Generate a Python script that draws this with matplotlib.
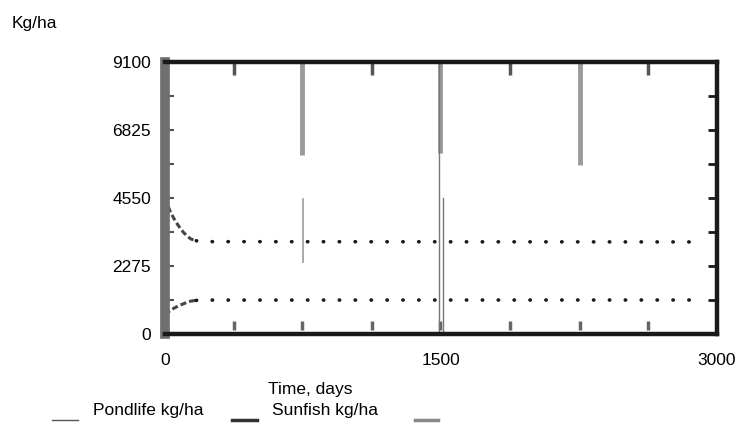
import matplotlib
matplotlib.use("Agg")
import matplotlib.pyplot as plt

plt.rcParams.update({"font.family": ["Liberation Sans", "DejaVu Sans"], "font.size": 11})

# data
days = [0, 15, 30, 45, 60, 80, 100, 120, 140, 170, 200, 2880]
pondlife = [4550, 4300, 4080, 3900, 3740, 3560, 3400, 3280, 3180, 3120, 3090, 3080]
sunfish = [650, 720, 790, 850, 900, 960, 1010, 1060, 1100, 1125, 1135, 1138]
n_early = 10  # the start-up part is drawn solid, the plateau dotted

yticks = [0, 2275, 4550, 6825, 9100]
xticks = [0, 1500, 3000]
minor_y = [1137.5, 3412.5, 5687.5, 7962.5]

# page-break marks STELLA left on the plot
marks_top = [745, 1495, 2255]
marks_top_end = [5990, 6050, 5650]
marks_short = [375, 1125, 1875, 2625]

fig = plt.figure(figsize=(7.38, 4.46), dpi=100)
ax = fig.add_axes([0.2236, 0.2511, 0.7479, 0.6099])
ax.set_xlim(0, 3000)
ax.set_ylim(0, 9100)

ink = "#1a1a1a"
grey = "#9a9a9a"

for t, lo in zip(marks_top, marks_top_end):
    ax.plot([t, t], [lo, 9100], color=grey, lw=3.5, solid_capstyle="butt", zorder=1)
for t in marks_short:
    ax.plot([t, t], [8650, 9100], color="#555555", lw=2.5, solid_capstyle="butt")
for t in marks_top + marks_short:
    ax.plot([t, t], [130, 450], color="#666666", lw=2.5, solid_capstyle="butt")
ax.plot([750, 750], [2400, 4500], color=grey, lw=1.2)
ax.plot([1490, 1490], [0, 9100], color="#777777", lw=1.0)
ax.plot([1512, 1512], [0, 4550], color="#777777", lw=1.0)

for ys in (pondlife, sunfish):
    ax.plot(days[:n_early], ys[:n_early], color="#444444", lw=2.2, ls=(0, (2, 1)))
    ax.plot(days[n_early - 1:], ys[n_early - 1:], color=ink, lw=2.6,
            ls=(0, (0.1, 4.3)), dash_capstyle="round")

for y in minor_y + yticks[1:-1]:
    ax.plot([3000 - 50, 3000], [y, y], color=ink, lw=2, solid_capstyle="butt")
    ax.plot([0, 50], [y, y], color="#555555", lw=1.5, solid_capstyle="butt")

for s in ax.spines.values():
    s.set_linewidth(3.2)
    s.set_color(ink)
ax.spines["left"].set_color("#707070")
ax.spines["left"].set_linewidth(7)

ax.set_xticks(xticks)
ax.set_yticks(yticks)
ax.set_xticklabels([str(v) for v in xticks], fontsize=12.5)
ax.set_yticklabels([str(v) for v in yticks], fontsize=12.5)
ax.tick_params(length=0, pad=10)
ax.xaxis.set_tick_params(pad=14)

fig.text(12 / 738, 1 - 28 / 446, "Kg/ha", fontsize=12.5, ha="left", va="baseline")
fig.text(310 / 738, 1 - 394 / 446, "Time, days", fontsize=12.5, ha="center", va="baseline")

# legend strip under the axis
leg_y = 1 - 420 / 446
fig.add_artist(plt.Line2D([52 / 738, 78 / 738], [leg_y, leg_y], color="#555555", lw=1))
fig.text(93 / 738, 1 - 415 / 446, "Pondlife kg/ha", fontsize=12.5, ha="left", va="baseline")
fig.add_artist(plt.Line2D([232 / 738, 257 / 738], [leg_y, leg_y], color="#333333", lw=2.5))
fig.text(272 / 738, 1 - 415 / 446, "Sunfish kg/ha", fontsize=12.5, ha="left", va="baseline")
fig.add_artist(plt.Line2D([415 / 738, 438 / 738], [leg_y, leg_y], color="#888888", lw=2.5))

fig.savefig("out.png", dpi=100)
